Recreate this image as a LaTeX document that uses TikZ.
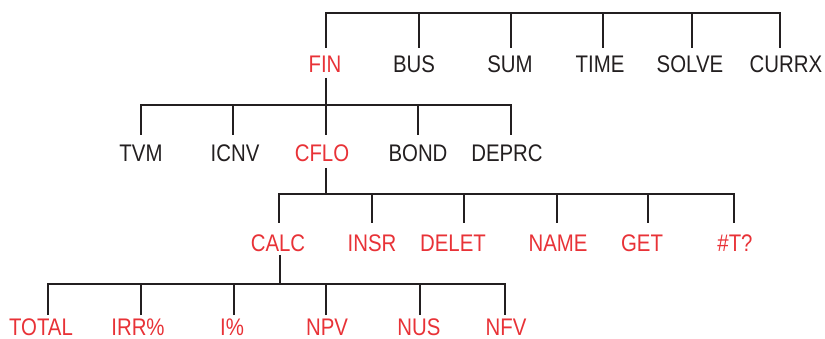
\documentclass[tikz,border=0pt]{standalone}
\usepackage{fontspec}
\setmainfont[FakeStretch=0.85]{Liberation Sans}
\definecolor{hpred}{RGB}{232,50,55}
\definecolor{hpblack}{RGB}{35,31,32}
\begin{document}
\begin{tikzpicture}[x=1pt,y=-1pt,
  lbl/.style={inner sep=0pt,anchor=base,font=\fontsize{24}{24}\selectfont,text=hpblack},
  sel/.style={lbl,text=hpred},
  link/.style={draw=hpblack,line width=1.9pt}]
\useasboundingbox (0,0) rectangle (825,339);
% ---------- level 0
\node[sel] (fin)   at (325,73) {FIN};
\node[lbl] (bus)   at (414,73) {BUS};
\node[lbl] (sum)   at (510,73) {SUM};
\node[lbl] (time)  at (600,73) {TIME};
\node[lbl] (solve) at (690,73) {SOLVE};
\node[lbl] (currx) at (786,73) {CURRX};
\coordinate (bar0) at (0,13);
\coordinate (fin-in)   at (326,48);
\coordinate (bus-in)   at (419,48);
\coordinate (sum-in)   at (511,48);
\coordinate (time-in)  at (603,48);
\coordinate (solve-in) at (692,48);
\coordinate (currx-in) at (780,48);
\draw[link] (fin-in) -- (fin-in |- bar0) -| (currx-in);
\foreach \c in {bus,sum,time,solve}
  \draw[link] (\c-in) -- (\c-in |- bar0);
% ---------- level 1
\coordinate (fin-out) at (326,78);
\coordinate (bar1) at (0,105);
\node[lbl] (tvm)   at (141,162) {TVM};
\node[lbl] (icnv)  at (235,162) {ICNV};
\node[sel] (cflo)  at (322,162) {CFLO};
\node[lbl] (bond)  at (418,162) {BOND};
\node[lbl] (deprc) at (507,162) {DEPRC};
\coordinate (tvm-in)   at (141,135);
\coordinate (icnv-in)  at (233,135);
\coordinate (cflo-in)  at (326,135);
\coordinate (bond-in)  at (418,135);
\coordinate (deprc-in) at (511,135);
\draw[link] (fin-out) -- (fin-out |- bar1);
\draw[link] (tvm-in) -- (tvm-in |- bar1) -| (deprc-in);
\foreach \c in {icnv,cflo,bond}
  \draw[link] (\c-in) -- (\c-in |- bar1);
% ---------- level 2
\coordinate (cflo-out) at (326,168);
\coordinate (bar2) at (0,194);
\node[sel] (calc)  at (278,252) {CALC};
\node[sel] (insr)  at (372,252) {INSR};
\node[sel] (delet) at (453,252) {DELET};
\node[sel] (name)  at (558,252) {NAME};
\node[sel] (get)   at (642,252) {GET};
\node[sel] (nt)    at (735,252) {\#T?};
\coordinate (calc-in)  at (279,223);
\coordinate (insr-in)  at (372,223);
\coordinate (delet-in) at (464,223);
\coordinate (name-in)  at (557,223);
\coordinate (get-in)   at (648,223);
\coordinate (nt-in)    at (734,223);
\draw[link] (cflo-out) -- (cflo-out |- bar2);
\draw[link] (calc-in) -- (calc-in |- bar2) -| (nt-in);
\foreach \c in {insr,delet,name,get}
  \draw[link] (\c-in) -- (\c-in |- bar2);
% ---------- level 3
\coordinate (calc-out) at (280,255);
\coordinate (bar3) at (0,284);
\node[sel] (total) at (41,335)  {TOTAL};
\node[sel] (irr)   at (138,335) {IRR\%};
\node[sel] (ipct)  at (232,335) {I\%};
\node[sel] (npv)   at (327,335) {NPV};
\node[sel] (nus)   at (419,335) {NUS};
\node[sel] (nfv)   at (506,335) {NFV};
\coordinate (total-in) at (48,315);
\coordinate (irr-in)   at (141,315);
\coordinate (ipct-in)  at (234,315);
\coordinate (npv-in)   at (326,315);
\coordinate (nus-in)   at (420,315);
\coordinate (nfv-in)   at (505,315);
\draw[link] (calc-out) -- (calc-out |- bar3);
\draw[link] (total-in) -- (total-in |- bar3) -| (nfv-in);
\foreach \c in {irr,ipct,npv,nus}
  \draw[link] (\c-in) -- (\c-in |- bar3);
\end{tikzpicture}
\end{document}
